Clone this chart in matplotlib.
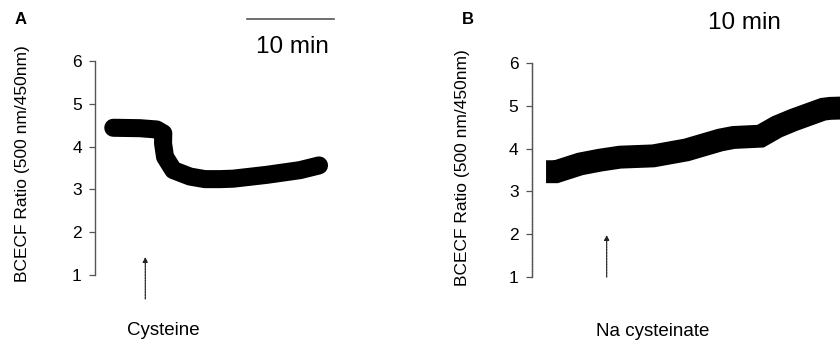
import matplotlib
matplotlib.use("Agg")
import matplotlib.pyplot as plt

plt.rcParams['font.family'] = ['Liberation Sans', 'DejaVu Sans']

# Panel A - cysteine (time in min, BCECF ratio)
t_a = [2.10, 5.17, 7.09, 7.85, 7.82, 8.05, 9.0, 10.92, 12.64, 14.37, 15.86, 19.74, 23.56, 25.75]
r_a = [4.44, 4.43, 4.40, 4.31, 4.08, 3.76, 3.45, 3.30, 3.24, 3.24, 3.25, 3.34, 3.45, 3.56]

# Panel B - Na cysteinate
t_b = [1.65, 2.8, 5.55, 7.85, 10.15, 13.98, 17.8, 21.66, 23.2, 26.3, 28.2, 30.1, 33.5, 34.3, 36.0]
r_b = [3.46, 3.46, 3.64, 3.73, 3.80, 3.83, 3.97, 4.20, 4.26, 4.29, 4.51, 4.67, 4.92, 4.94, 4.95]

yticks = [1, 2, 3, 4, 5, 6]
ylabel = 'BCECF Ratio (500 nm/450nm)'

# arrow (time, bottom, top)
arrow_a = (5.78, 0.44, 1.42)
arrow_b = (8.62, 1.0, 1.98)

fig = plt.figure(figsize=(8.4, 3.42), dpi=100)
W, H = 840.0, 342.0
PX_PER_MIN = 8.7


def setup(ax, spine_px, y1_px, right_px, dotted=False):
    ax.set_xlim(0, (right_px - spine_px) / PX_PER_MIN)
    ax.set_ylim(1 + (y1_px - H) / 42.8, 1 + y1_px / 42.8)
    ax.patch.set_visible(False)
    for s in ['top', 'right', 'bottom']:
        ax.spines[s].set_visible(False)
    sp = ax.spines['left']
    sp.set_bounds(1, 6)
    sp.set_color('#555555')
    sp.set_linewidth(1.0)
    if dotted:
        sp.set_linestyle((0, (1, 0.6)))
    ax.set_xticks([])
    ax.set_yticks(yticks)
    ax.tick_params(axis='y', length=4, width=0.9, color='#555555', pad=5.5, labelsize=12.5)


def arrow(ax, a):
    x, y0, y1 = a
    ax.annotate('', xy=(x, y1), xytext=(x, y0),
                arrowprops=dict(arrowstyle='-|>', lw=0.9, color='#222222',
                                linestyle=(0, (1.5, 0.8)), mutation_scale=7,
                                shrinkA=0, shrinkB=0))


# ---- A ----
axa = fig.add_axes([95 / W, 0, (340 - 95) / W, 1])
setup(axa, 95, 275, 340)
axa.plot(t_a, r_a, color='black', lw=13, solid_capstyle='round', solid_joinstyle='round')
axa.plot([17.5, 27.5], [6.98, 6.98], color='#555555', lw=1.2, clip_on=False)
axa.text(22.7, 6.18, '10 min', fontsize=17.5, ha='center', va='baseline')
arrow(axa, arrow_a)
axa.text(7.82, -0.40, 'Cysteine', fontsize=13.5, ha='center', va='baseline')

# ---- B ----
axb = fig.add_axes([531.7 / W, 0, (840 - 531.7) / W, 1])
setup(axb, 531.7, 277, 840, dotted=True)
axb.plot(t_b, r_b, color='black', lw=16.5, solid_capstyle='butt', solid_joinstyle='miter')
axb.text(24.4, 6.79, '10 min', fontsize=17.5, ha='center', va='baseline')
arrow(axb, arrow_b)
axb.text(13.89, -0.378, 'Na cysteinate', fontsize=13.5, ha='center', va='baseline')

fig.text(20.5 / W, 1 - 20 / H, 'A', fontsize=12, fontweight='bold', ha='center', va='center')
fig.text(467.5 / W, 1 - 19.5 / H, 'B', fontsize=12, fontweight='bold', ha='center', va='center')
fig.text(22.5 / W, 1 - 164 / H, ylabel, rotation=90, fontsize=12.5, ha='center', va='center')
fig.text(462.5 / W, 1 - 168 / H, ylabel, rotation=90, fontsize=12.5, ha='center', va='center')

fig.savefig('out.png', dpi=100)
